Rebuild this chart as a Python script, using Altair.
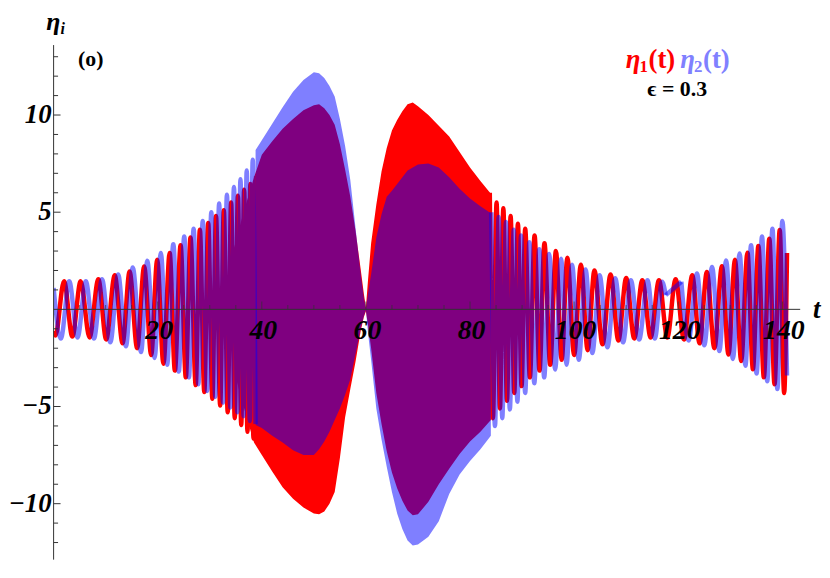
import altair as alt
import pandas as pd

# ---------------- data ----------------
# extrema (alternating peaks / troughs) of eta_1 (red), left resolvable part
red_left_t = [0.0, 0.35, 2.0, 3.6, 5.2, 6.9, 8.6, 10.1, 11.75, 13.25, 14.6, 16.05, 17.4, 18.75, 19.9,
              21.1, 22.3, 23.3, 24.4, 25.4, 26.3, 27.3, 28.1, 28.95, 29.7, 30.5, 31.2, 32.0, 32.7,
              33.45, 34.1, 34.8, 35.4, 36.05, 36.6, 37.25, 37.8, 38.4, 38.9]
red_left_v = [-1.1, -1.35, 1.45, -1.4, 1.45, -1.45, 1.55, -1.55, 1.75, -1.75, 1.95, -2.0, 2.2, -2.35, 2.55,
              -2.8, 2.9, -3.15, 3.3, -3.5, 3.7, -3.9, 4.1, -4.25, 4.45, -4.6, 4.8, -4.95, 5.1,
              -5.3, 5.5, -5.6, 5.85, -5.95, 6.15, -6.3, 6.45, -6.65, 6.85]
# eta_1 right resolvable part
red_right_t = [83.8, 84.4, 85.1, 85.75, 86.4, 87.1, 87.8, 88.5, 89.2, 89.9, 90.6, 91.5, 92.4, 93.35, 94.3,
               95.4, 96.5, 97.6, 98.7, 100.0, 101.3, 102.6, 103.9, 105.45, 107.0, 108.5, 110.0, 111.55,
               113.1, 114.7, 116.3, 117.9, 119.5, 121.1, 122.7, 124.1, 125.5, 126.95, 128.4, 129.65,
               130.9, 132.1, 133.3, 134.35, 135.4, 136.45, 137.5, 138.5, 139.5, 140.35, 140.9]
red_right_v = [6.0, -5.6, 5.5, -5.1, 5.2, -4.7, 4.8, -4.3, 4.4, -3.95, 4.15, -3.5, 3.8, -3.15, 3.4,
               -2.85, 3.0, -2.6, 2.65, -2.35, 2.3, -2.1, 2.0, -1.8, 1.8, -1.6, 1.62, -1.5,
               1.5, -1.45, 1.5, -1.45, 1.55, -1.55, 1.75, -1.75, 1.92, -2.0, 2.22, -2.33,
               2.55, -2.66, 2.92, -3.08, 3.26, -3.5, 3.64, -3.85, 4.08, -4.3, 2.9]
# eta_2 (blue)
blue_left_t = [0.0, 1.4, 3.0, 4.6, 6.2, 7.75, 9.3, 10.9, 12.4, 13.9, 15.2, 16.8, 18.0, 19.4, 20.6, 21.8,
               23.0, 24.05, 25.1, 26.0, 26.9, 27.8, 28.65, 29.5, 30.3, 31.05, 31.8, 32.55, 33.3, 33.95,
               34.65, 35.3, 35.9, 36.5, 37.1, 37.7, 38.25, 38.8]
blue_left_v = [1.1, -1.5, 1.45, -1.45, 1.45, -1.5, 1.55, -1.7, 1.8, -1.9, 2.15, -2.2, 2.5, -2.5, 2.9, -2.85,
               3.35, -3.2, 3.75, -3.5, 4.15, -3.85, 4.55, -4.2, 5.0, -4.5, 5.45, -4.8, 5.9, -5.05,
               6.3, -5.3, 6.7, -5.5, 7.15, -5.75, 7.7, -5.9]
blue_right_t = [84.1, 84.8, 85.5, 86.2, 86.9, 87.65, 88.4, 89.1, 89.8, 90.6, 91.4, 92.35, 93.3, 94.25, 95.2,
                96.35, 97.5, 98.55, 99.6, 100.9, 102.2, 103.5, 104.9, 106.4, 107.9, 109.4, 110.9, 112.5,
                114.1, 115.5, 116.9, 117.6]
blue_right_v = [5.0, -6.0, 4.75, -5.6, 4.5, -5.15, 4.1, -4.75, 3.8, -4.3, 3.45, -3.8, 3.1, -3.5, 2.85,
                -3.1, 2.6, -2.85, 2.3, -2.6, 2.05, -2.25, 1.75, -1.95, 1.6, -1.7, 1.5, -1.55,
                1.5, -1.5, 1.42, 0.73]
# straight glitch of eta_2 near t = 118..121
blue_glitch_t = [117.6, 120.6]
blue_glitch_v = [0.73, 1.42]
blue_end_t = [120.6, 122.0, 123.6, 125.0, 126.5, 127.9, 129.2, 130.5,
              131.8, 132.9, 134.0, 135.05, 136.1, 137.1, 138.1, 139.05, 140.0, 140.9]
blue_end_v = [1.42, -1.6, 1.85, -1.85, 2.18, -2.15, 2.52, -2.55,
              2.88, -2.9, 3.3, -3.3, 3.75, -3.7, 4.15, -4.1, 4.55, -3.4]

# envelopes of the filled (unresolved) middle part
red_band_t = [34.5, 36.5, 38.5, 40, 42, 44, 46, 48, 50, 51, 52, 53, 54, 55, 56, 57, 58, 59, 59.6, 60, 60.4,
              61, 62, 63, 64, 65, 66, 67, 68, 69, 70, 72, 74, 76, 78, 80, 82, 84]
red_band_hi = [3.0, 5.0, 6.8, 7.95, 8.65, 9.3, 9.8, 10.25, 10.5, 10.55, 10.35, 10.0, 9.5, 8.5, 7.2, 5.8, 4.05,
               2.05, 0.8, 0.1, 1.5, 3.4, 5.4, 7.1, 8.3, 9.2, 9.75, 10.2, 10.55, 10.65, 10.45, 10.0, 9.45,
               8.9, 8.1, 7.3, 6.6, 5.95]
red_band_lo = [-3.0, -5.0, -6.85, -7.5, -8.35, -9.15, -9.75, -10.2, -10.5, -10.55, -10.4, -10.0, -9.4, -7.65,
               -5.55, -4.1, -2.7, -1.1, -0.4, -0.1, -0.8, -2.0, -4.3, -5.9, -7.3, -8.4, -9.2, -9.85,
               -10.35, -10.6, -10.55, -9.9, -9.0, -8.2, -7.45, -6.8, -6.3, -5.7]
blue_band_t = [38.8, 40, 42, 44, 46, 48, 50, 51, 52, 53, 54, 55, 56, 57, 58, 59, 59.6, 60, 60.4,
               61, 62, 63, 64, 65, 66, 67, 68, 69, 70, 72, 74, 76, 78, 80, 82, 84]
blue_band_hi = [8.2, 8.7, 9.55, 10.4, 11.2, 11.8, 12.2, 12.15, 11.9, 11.5, 10.95, 9.8, 8.4, 6.65,
                4.2, 1.8, 0.6, 0.05, 0.8, 1.8, 3.7, 4.9, 5.8, 6.1, 6.45, 6.8, 7.15, 7.3, 7.45, 7.5, 7.3,
                6.8, 6.2, 5.7, 5.3, 4.95]
blue_band_lo = [-5.95, -6.1, -6.5, -6.85, -7.25, -7.5, -7.5, -7.2, -6.8, -6.3, -5.7, -5.1, -4.4,
                -3.6, -2.3, -1.0, -0.35, -0.05, -1.2, -2.6, -5.1, -6.7, -8.1, -9.4, -10.5, -11.3, -11.9,
                -12.15, -12.1, -11.7, -10.9, -9.5, -8.5, -7.8, -7.2, -6.5]

# axes
x_major = [20, 40, 60, 80, 100, 120, 140]
x_minor = [5, 10, 15, 25, 30, 35, 45, 50, 55, 65, 70, 75, 85, 90, 95, 105, 110, 115, 125, 130, 135]
y_major = [-10, -5, 5, 10]
y_major_labels = ["\u221210", "\u22125", "5", "10"]
y_minor = [-12, -11, -9, -8, -7, -6, -4, -3, -2, -1, 1, 2, 3, 4, 6, 7, 8, 9, 11, 12, 13]

# ---------------- chart ----------------
W, H = 753, 519
xs = alt.Scale(domain=[0, 143.43], nice=False, zero=False)
ys = alt.Scale(domain=[-12.88, 13.6], nice=False, zero=False)
RED = "#ff0000"
BLUE = "#0000ff"
LIGHTBLUE = "#8080ff"
AX = "#333333"
SERIF = "Liberation Serif"
LW = 4.5

red_df = pd.concat([
    pd.DataFrame({"t": red_left_t, "v": red_left_v, "seg": "a"}),
    pd.DataFrame({"t": red_right_t, "v": red_right_v, "seg": "b"}),
])
blue_df = pd.concat([
    pd.DataFrame({"t": blue_left_t, "v": blue_left_v, "seg": "a"}),
    pd.DataFrame({"t": blue_right_t, "v": blue_right_v, "seg": "b"}),
    pd.DataFrame({"t": blue_end_t, "v": blue_end_v, "seg": "d"}),
])
glitch_df = pd.DataFrame({"t": blue_glitch_t, "v": blue_glitch_v})
red_band_df = pd.DataFrame({"t": red_band_t, "lo": red_band_lo, "hi": red_band_hi})
blue_band_df = pd.DataFrame({"t": blue_band_t, "lo": blue_band_lo, "hi": blue_band_hi})

X = alt.X("t:Q", scale=xs, axis=None)
Y = lambda f: alt.Y(f, scale=ys, axis=None)

red_band = alt.Chart(red_band_df).mark_area(color=RED, opacity=1, clip=True).encode(
    x=X, y=Y("lo:Q"), y2="hi:Q")
red_line = alt.Chart(red_df).mark_line(color=RED, strokeWidth=LW, interpolate="monotone", clip=True).encode(
    x=X, y=Y("v:Q"), detail="seg:N")
blue_band = alt.Chart(blue_band_df).mark_area(color=BLUE, opacity=0.5, clip=True).encode(
    x=X, y=Y("lo:Q"), y2="hi:Q")
blue_line = alt.Chart(blue_df).mark_line(color=BLUE, opacity=0.5, strokeWidth=LW, interpolate="monotone",
                                         clip=True).encode(
    x=X, y=Y("v:Q"), detail="seg:N")
blue_glitch = alt.Chart(glitch_df).mark_line(color=BLUE, opacity=0.5, strokeWidth=LW, clip=True).encode(
    x=X, y=Y("v:Q"))

zero_df = pd.DataFrame({"z": [0]})
x_axis_line = alt.Chart(zero_df).mark_rule(color=AX, strokeWidth=1).encode(
    x=alt.value(0), x2=alt.value(W), y=Y("z:Q"))
y_axis_line = alt.Chart(zero_df).mark_rule(color=AX, strokeWidth=1).encode(
    x=alt.value(0), y=alt.value(0), y2=alt.value(H))

xmaj_df = pd.DataFrame({"t": x_major, "z": 0})
xmin_df = pd.DataFrame({"t": x_minor, "z": 0})
xmaj_ticks = alt.Chart(xmaj_df).mark_tick(color=AX, thickness=1, size=8, orient="vertical",
                                          yOffset=-4).encode(x=X, y=Y("z:Q"))
xmin_ticks = alt.Chart(xmin_df).mark_tick(color=AX, thickness=1, size=4.5, orient="vertical",
                                          yOffset=-2.25).encode(x=X, y=Y("z:Q"))
x_labels = alt.Chart(xmaj_df).mark_text(font=SERIF, fontSize=28, fontWeight="bold", fontStyle="italic",
                                        align="center", baseline="alphabetic", dy=30, dx=1.5,
                                        color="black").encode(
    x=X, y=Y("z:Q"), text=alt.Text("t:Q", format="d"))

ymaj_df = pd.DataFrame({"v": y_major, "lab": y_major_labels})
ymin_df = pd.DataFrame({"v": y_minor})
ymaj_ticks = alt.Chart(ymaj_df).mark_rule(color=AX, strokeWidth=1).encode(
    y=Y("v:Q"), x=alt.value(0), x2=alt.value(7))
ymin_ticks = alt.Chart(ymin_df).mark_rule(color=AX, strokeWidth=1).encode(
    y=Y("v:Q"), x=alt.value(0), x2=alt.value(4.5))
y_labels = alt.Chart(ymaj_df).mark_text(font=SERIF, fontSize=27, fontWeight="bold", fontStyle="italic",
                                        align="right", baseline="middle", color="black").encode(
    y=Y("v:Q"), x=alt.value(-2), text="lab:N")


def label(s, x, y, size, color="black", italic=False, align="left"):
    return alt.Chart(pd.DataFrame({"s": [s]})).mark_text(
        font=SERIF, fontSize=size, fontWeight="bold", fontStyle="italic" if italic else "normal",
        align=align, baseline="alphabetic", color=color).encode(
        x=alt.value(x), y=alt.value(y), text="s:N")


texts = [
    label("\u03b7", -7.5, -15, 26, italic=True),
    label("i", 7.0, -11, 16, italic=True),
    label("t", 766, 275, 27, italic=True),
    label("(o)", 37.5, 21, 22, align="center"),
    label("\u03b7", 577, 23, 27, color=RED, italic=True),
    label("1", 591, 27, 17, color=RED),
    label("(t)", 600, 23, 27, color=RED),
    label("\u03b7", 632, 23, 27, color=LIGHTBLUE, italic=True),
    label("2", 646, 27, 17, color=LIGHTBLUE),
    label("(t)", 655, 23, 27, color=LIGHTBLUE),
    label("\u03f5 = 0.3", 629, 51, 22, align="center"),
]

chart = alt.layer(
    red_band, red_line, blue_band, blue_line, blue_glitch,
    x_axis_line, y_axis_line, xmaj_ticks, xmin_ticks, ymaj_ticks, ymin_ticks,
    x_labels, y_labels, *texts
).properties(
    width=W, height=H,
    padding={"left": 46, "top": 35, "right": 22, "bottom": 1},
    autosize=alt.AutoSizeParams(type="none"),
    background="white",
).configure_view(stroke=None)

chart.save("out.html", embed_options={"renderer": "svg", "actions": False})
